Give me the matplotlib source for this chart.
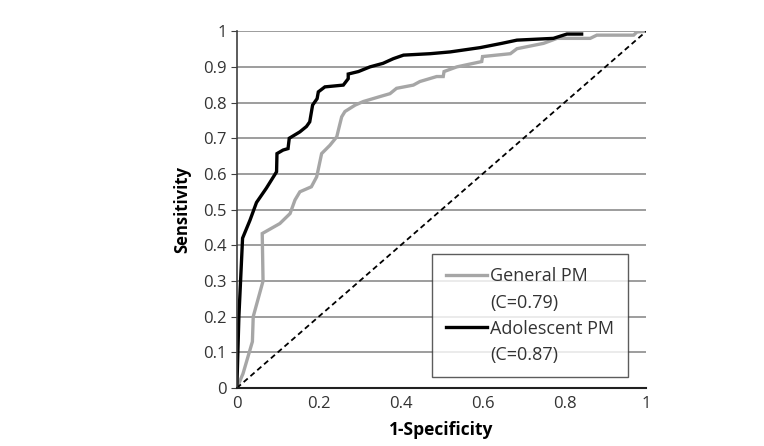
import matplotlib
matplotlib.use("Agg")
from matplotlib import pyplot as plt
from matplotlib.lines import Line2D

plt.rcParams["font.family"] = ["Open Sans", "DejaVu Sans"]

# Adolescent PM curve (1-specificity, sensitivity)
adol_x = [0, 0.005, 0.014, 0.032, 0.048, 0.072, 0.097, 0.098, 0.113, 0.125, 0.128,
          0.154, 0.170, 0.178, 0.185, 0.196, 0.199, 0.215, 0.26, 0.272, 0.272,
          0.297, 0.325, 0.357, 0.382, 0.407, 0.472, 0.521, 0.594, 0.647, 0.684,
          0.773, 0.806, 0.842]
adol_y = [0, 0.2, 0.42, 0.47, 0.52, 0.56, 0.606, 0.657, 0.667, 0.671, 0.70,
          0.718, 0.733, 0.746, 0.793, 0.811, 0.83, 0.844, 0.849, 0.867, 0.88,
          0.887, 0.90, 0.91, 0.923, 0.933, 0.937, 0.942, 0.954, 0.966, 0.975,
          0.98, 0.992, 0.992]

# General PM curve
gen_x = [0, 0.015, 0.038, 0.04, 0.064, 0.062, 0.105, 0.13, 0.142, 0.154, 0.182,
         0.195, 0.207, 0.227, 0.244, 0.248, 0.256, 0.264, 0.289, 0.309, 0.35,
         0.374, 0.39, 0.431, 0.447, 0.488, 0.504, 0.506, 0.537, 0.598, 0.6,
         0.668, 0.684, 0.749, 0.782, 0.863, 0.879, 0.969, 0.977, 1.0]
gen_y = [0, 0.04, 0.13, 0.20, 0.30, 0.433, 0.461, 0.489, 0.527, 0.55, 0.564,
         0.592, 0.657, 0.68, 0.704, 0.723, 0.76, 0.775, 0.793, 0.803, 0.817,
         0.825, 0.84, 0.849, 0.859, 0.873, 0.873, 0.887, 0.90, 0.915, 0.929,
         0.937, 0.951, 0.966, 0.98, 0.98, 0.989, 0.989, 0.998, 1.0]

ref = [0, 1]
ticks = [0, 0.2, 0.4, 0.6, 0.8, 1]
yticks = [i / 10 for i in range(11)]

fig = plt.figure(figsize=(7.64, 4.46), dpi=100)
ax = fig.add_axes([0.310, 0.130, 0.536, 0.800])

l1, = ax.plot(gen_x, gen_y, color="#a6a6a6", lw=2.4, solid_joinstyle="miter")
l2, = ax.plot(adol_x, adol_y, color="black", lw=2.4, solid_joinstyle="miter")
ax.plot(ref, ref, color="black", lw=1.3, ls=(0, (3, 2)))

ax.set_xlim(0, 1)
ax.set_ylim(0, 1)
ax.set_xticks(ticks)
ax.set_xticklabels(["0", "0.2", "0.4", "0.6", "0.8", "1"])
ax.set_yticks(yticks)
ax.set_yticklabels(["0"] + ["%.1f" % v for v in yticks[1:-1]] + ["1"])
ax.yaxis.grid(True, color="#8c8c8c", lw=1.2)
ax.set_axisbelow(True)
for s in ["top", "right"]:
    ax.spines[s].set_visible(False)
ax.spines["left"].set_color("#404040")
ax.spines["bottom"].set_color("#202020")
ax.spines["left"].set_linewidth(1.2)
ax.spines["bottom"].set_linewidth(1.5)
ax.tick_params(axis="both", labelsize=12, length=4, color="#404040",
               labelcolor="#333333")
ax.tick_params(axis="x", length=0, pad=6)

ax.set_xlabel("1-Specificity", fontsize=12.5, fontweight="bold", labelpad=6)
ax.set_ylabel("Sensitivity", fontsize=12, fontweight="bold", labelpad=8)

blank = Line2D([], [], color="none")
leg = ax.legend([l1, blank, l2, blank],
                ["General PM", "(C=0.79)", "Adolescent PM", "(C=0.87)"],
                loc="lower right", bbox_to_anchor=(0.954, 0.03), fontsize=13,
                frameon=True, fancybox=False, handlelength=2.3,
                handletextpad=0.15, labelspacing=0.45, borderpad=0.75,
                borderaxespad=0)
leg.get_frame().set_edgecolor("#333333")
leg.get_frame().set_linewidth(1.0)
for t in leg.get_texts():
    t.set_color("#333333")

fig.savefig("out.png", dpi=100)
